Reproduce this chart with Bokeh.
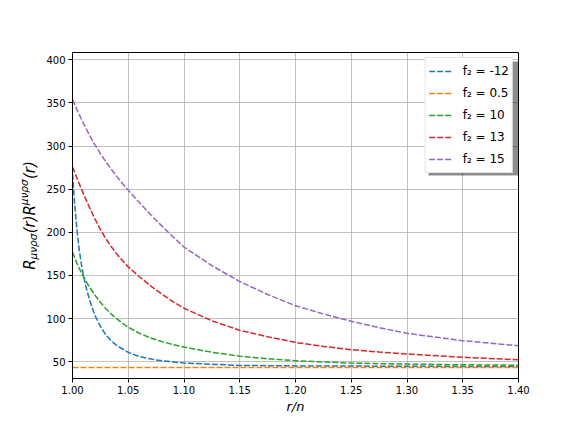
from math import pi
from bokeh.plotting import figure
from bokeh.layouts import row
from bokeh.models import (Range1d, FixedTicker, Legend, LegendItem, Label,
                          BoxAnnotation, NumeralTickFormatter)
from bokeh.embed import file_html
from bokeh.resources import INLINE

# ---- data ----
r_grid = [1.00, 1.005, 1.01, 1.015, 1.02, 1.025, 1.03, 1.035, 1.04, 1.045,
          1.05, 1.06, 1.07, 1.08, 1.09, 1.10, 1.125, 1.15, 1.175, 1.20,
          1.225, 1.25, 1.275, 1.30, 1.35, 1.40]
f2_15 = [354, 339.5, 325.8, 313.3, 301.8, 291.3, 281.7, 272.8, 264.3, 256.4,
         248.9, 234.5, 220.7, 207.5, 195, 183, 161.5, 143, 128, 115,
         105.5, 97, 89.5, 83, 74.4, 68.6]
f2_13 = [276, 259.5, 244, 229.5, 216, 203.5, 192.5, 183, 174.5, 167,
         160, 148.5, 138, 128.5, 119.8, 112, 97.5, 86.5, 79, 72.5,
         67.8, 64, 61.3, 59, 55.2, 52.3]
f2_10 = [177, 161, 148, 137, 127.5, 119, 111.5, 105, 99.5, 94.5,
         90, 83, 77.5, 73.5, 70, 67, 61, 56.5, 53.5, 51.2,
         49.7, 48.5, 47.8, 47.3, 46.5, 46]
r_flat = [1.00, 1.40]
f2_05 = [43.3, 43.3]
r_blue = [1.000, 1.002, 1.004, 1.006, 1.008, 1.010, 1.013, 1.016, 1.020,
          1.025, 1.030, 1.035, 1.040, 1.050, 1.060, 1.075, 1.10, 1.15,
          1.20, 1.25, 1.30, 1.35, 1.40]
f2_m12 = [268, 232, 203, 180, 163, 149, 132, 119, 104,
          91, 81, 74, 68.5, 61, 56, 52, 48.5, 45.8,
          45.2, 45.0, 44.8, 44.6, 44.5]

series_labels = ["f\u2082 = -12", "f\u2082 = 0.5", "f\u2082 = 10", "f\u2082 = 13", "f\u2082 = 15"]
colors = ["#1f77b4", "#ff7f0e", "#2ca02c", "#d62728", "#9467bd"]
x_ticks = [1.00, 1.05, 1.10, 1.15, 1.20, 1.25, 1.30, 1.35, 1.40]
y_ticks = [50, 100, 150, 200, 250, 300, 350, 400]

FONT = "DejaVu Sans"
X0, X1 = 1.0, 1.4
Y0, Y1 = 30.6, 408.5
H = 424
LEFT_W = 42
TOP, BOTTOM = 52, 46

# ---- narrow figure that carries the y-axis label ----
# its frame is aligned with the main frame; coordinates = pixels from canvas bottom-left
lab = figure(width=LEFT_W, height=H, output_backend="svg", toolbar_location=None,
             x_range=Range1d(0, LEFT_W), y_range=Range1d(BOTTOM, H - TOP),
             x_axis_location=None, y_axis_location=None,
             min_border_left=0, min_border_right=0, min_border_top=TOP,
             min_border_bottom=BOTTOM)
lab.grid.visible = False
lab.outline_line_color = None
lab.background_fill_color = "white"
lab.border_fill_color = "white"

base = 15
small = 10.5
# (text, distance from bottom of canvas, baseline x, font size)
pieces = [
    ("R", 154.7, 29.5, base),
    ("\u03bc\u03bd\u03c1\u03c3", 165.0, 32.5, small),
    ("(r)R", 191.2, 29.5, base),
    ("\u03bc\u03bd\u03c1\u03c3", 219.3, 23.0, small),
    ("(r)", 245.5, 29.5, base),
]
for txt, yy, xx, fs in pieces:
    lab.add_layout(Label(x=xx, y=yy, text=txt, angle=pi / 2, text_font=FONT,
                         text_font_style="italic", text_font_size=f"{fs}px",
                         text_color="black", text_align="left",
                         text_baseline="alphabetic"))

# ---- main chart ----
p = figure(width=568 - LEFT_W, height=H, output_backend="svg", toolbar_location=None,
           x_range=Range1d(X0, X1), y_range=Range1d(Y0, Y1),
           min_border_left=72 - LEFT_W, min_border_right=50, min_border_top=TOP,
           min_border_bottom=BOTTOM)
p.background_fill_color = "white"
p.border_fill_color = "white"
p.outline_line_color = "black"
p.outline_line_width = 1

xs_list = [r_blue, r_flat, r_grid, r_grid, r_grid]
ys_list = [f2_m12, f2_05, f2_10, f2_13, f2_15]
renderers = []
for xs, ys, c in zip(xs_list, ys_list, colors):
    rr = p.line(xs, ys, line_color=c, line_width=1.5, line_dash="6 2")
    renderers.append(rr)

p.xaxis.ticker = FixedTicker(ticks=x_ticks)
p.xaxis.formatter = NumeralTickFormatter(format="0.00")
p.yaxis.ticker = FixedTicker(ticks=y_ticks)
for ax in (p.xaxis, p.yaxis):
    ax.axis_line_color = "black"
    ax.major_tick_line_color = "black"
    ax.major_tick_in = 0
    ax.major_tick_out = 4
    ax.minor_tick_line_color = None
    ax.major_label_standoff = 3
    ax.major_label_text_font = FONT
    ax.major_label_text_font_size = "10px"
    ax.major_label_text_color = "black"
p.xaxis.axis_label = "r/n"
p.xaxis.axis_label_text_font = FONT
p.xaxis.axis_label_text_font_style = "italic"
p.xaxis.axis_label_text_font_size = "13px"
p.xaxis.axis_label_text_color = "black"
p.xaxis.axis_label_standoff = 2

p.grid.grid_line_color = "#b0b0b0"
p.grid.grid_line_width = 0.8

# legend shadow
p.add_layout(BoxAnnotation(left=356, right=445.5, top=317, bottom=203,
                           left_units="screen", right_units="screen",
                           top_units="screen", bottom_units="screen",
                           fill_color="black", fill_alpha=0.45, line_color=None))

legend = Legend(items=[LegendItem(label=l, renderers=[r]) for l, r in zip(series_labels, renderers)],
                location="top_right")
legend.margin = 5
legend.padding = 3
legend.spacing = 2
legend.glyph_width = 24
legend.glyph_height = 20
legend.label_height = 20
legend.label_standoff = 10
legend.label_text_font = FONT
legend.label_text_font_size = "12px"
legend.label_text_color = "black"
legend.border_line_color = "#cccccc"
legend.border_line_width = 1
legend.background_fill_color = "white"
legend.background_fill_alpha = 1.0
p.add_layout(legend)

layout = row(lab, p, spacing=0)
open("out.html", "w").write(file_html(layout, INLINE))
